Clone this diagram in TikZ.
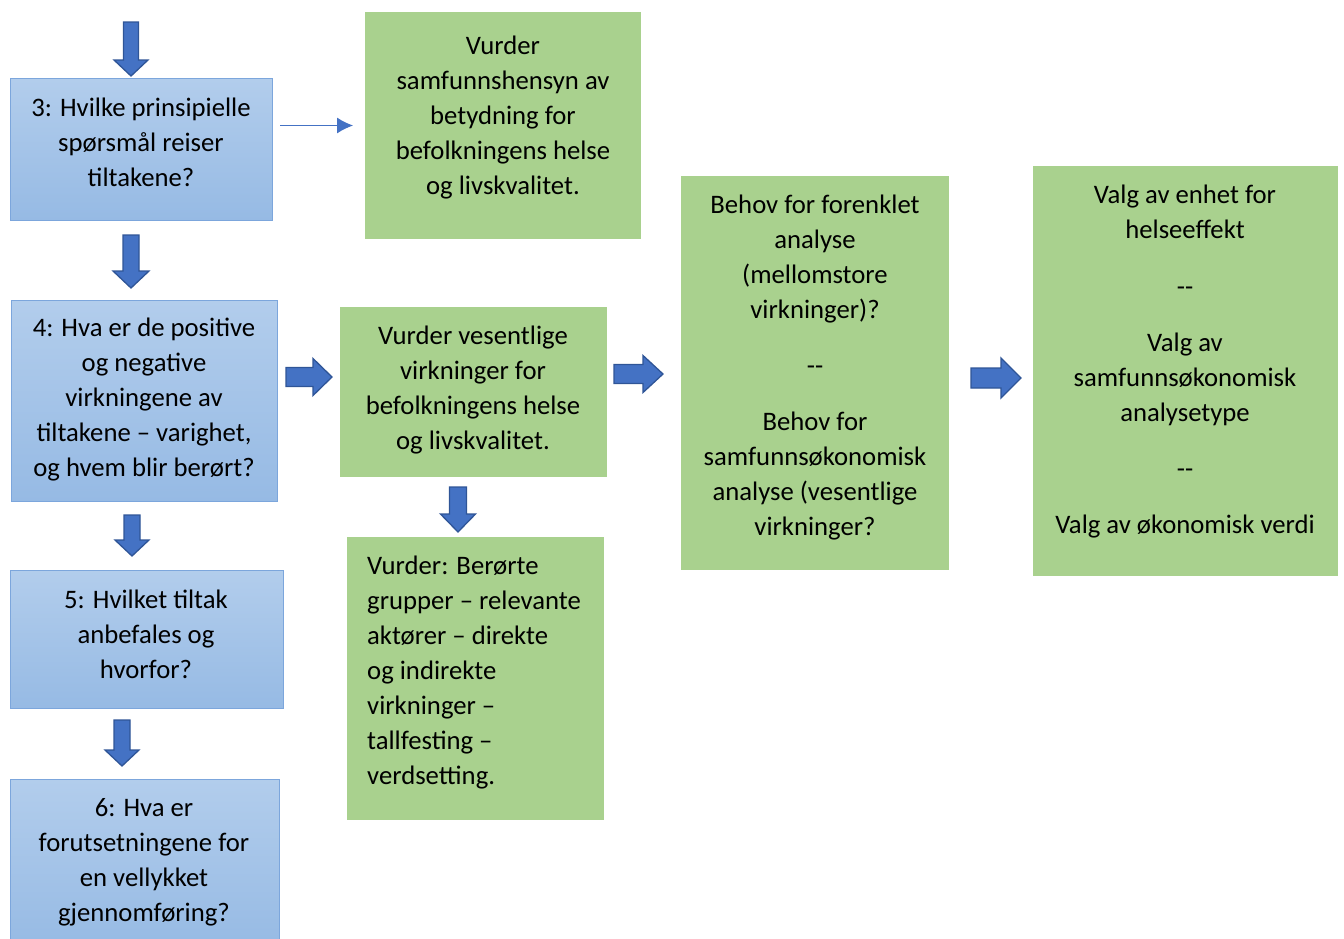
\documentclass[tikz,border=0pt]{standalone}
\usepackage{fontspec}
\setmainfont{Carlito}
\usetikzlibrary{calc,arrows.meta}
\definecolor{bluetop}{RGB}{178,205,236}
\definecolor{bluebot}{RGB}{150,186,228}
\definecolor{blueedge}{RGB}{124,166,220}
\definecolor{greenfill}{RGB}{169,209,142}
\definecolor{arrowfill}{RGB}{68,114,196}
\definecolor{arrowedge}{RGB}{47,85,151}
\tikzset{
  bluebox/.style={draw=blueedge, line width=1pt, top color=bluetop, bottom color=bluebot, anchor=north west, inner sep=0pt},
  greenbox/.style={fill=greenfill, anchor=north west, inner sep=0pt},
  txt/.style={align=center, inner sep=0pt, yshift=-2pt, font=\fontsize{26.7}{35}\selectfont},
  txtl/.style={align=left, inner sep=0pt, anchor=west, yshift=-2pt, font=\fontsize{26.7}{35}\selectfont},
  blockarrow/.style={fill=arrowfill, draw=arrowedge, line width=1.3pt, line join=miter},
  thinarrow/.style={draw=arrowfill, line width=1pt, -{Latex[length=16pt,width=16pt]}}
}
\newcommand\dd{{-}{-}}
\newcommand\barrowV[5]{\path[blockarrow] let \p1=(#1),\p2=(#2) in (\x1-#3pt,\y1) -- (\x1+#3pt,\y1) -- (\x1+#3pt,\y2+#5pt) -- (\x1+#4pt,\y2+#5pt) -- (\x2,\y2) -- (\x1-#4pt,\y2+#5pt) -- (\x1-#3pt,\y2+#5pt) -- cycle;}
\newcommand\barrowH[5]{\path[blockarrow] let \p1=(#1),\p2=(#2) in (\x1,\y1+#3pt) -- (\x2-#5pt,\y1+#3pt) -- (\x2-#5pt,\y1+#4pt) -- (\x2,\y2) -- (\x2-#5pt,\y1-#4pt) -- (\x2-#5pt,\y1-#3pt) -- (\x1,\y1-#3pt) -- cycle;}
\begin{document}
\begin{tikzpicture}[x=1pt,y=-1pt]
\useasboundingbox (0,0) rectangle (1344,938);
% blue boxes
\node[bluebox, minimum width=262pt, minimum height=142pt] (b3) at (10,78) {};
\node[txt] (b3t) at (141,140) {3: Hvilke prinsipielle\\spørsmål reiser\\tiltakene?};
\node[bluebox, minimum width=266pt, minimum height=201pt] (b4) at (11,300) {};
\node[txt] (b4t) at (144,398) {4: Hva er de positive\\og negative\\virkningene av\\tiltakene – varighet,\\og hvem blir berørt?};
\node[bluebox, minimum width=273pt, minimum height=138pt] (b5) at (10,570) {};
\node[txt] (b5t) at (146,632) {5: Hvilket tiltak\\anbefales og\\hvorfor?};
\node[bluebox, minimum width=269pt, minimum height=170pt] (b6) at (10,779) {};
\node[txt] (b6t) at (144,860) {6: Hva er\\forutsetningene for\\en vellykket\\gjennomføring?};
% green boxes
\node[greenbox, minimum width=276pt, minimum height=227pt] (gA) at (365,12) {};
\node[txt] (gAt) at (503,116) {Vurder\\samfunnshensyn av\\betydning for\\befolkningens helse\\og livskvalitet.};
\node[greenbox, minimum width=267pt, minimum height=170pt] (gB) at (340,307) {};
\node[txt] (gBt) at (473,388) {Vurder vesentlige\\virkninger for\\befolkningens helse\\og livskvalitet.};
\node[greenbox, minimum width=257pt, minimum height=283pt] (gC) at (347,537) {};
\node[txtl] (gCt) at (367,671) {Vurder: Berørte\\grupper – relevante\\aktører – direkte\\og indirekte\\virkninger –\\tallfesting –\\verdsetting.};
\node[greenbox, minimum width=268pt, minimum height=394pt] (gD) at (681,176) {};
\node[txt] (gDt) at (815,366) {Behov for forenklet\\analyse\\(mellomstore\\virkninger)?\\[21pt]\dd\\[21pt]Behov for\\samfunnsøkonomisk\\analyse (vesentlige\\virkninger?};
\node[greenbox, minimum width=305pt, minimum height=410pt] (gE) at (1033,166) {};
\node[txt] (gEt) at (1185,360) {Valg av enhet for\\helseeffekt\\[22pt]\dd\\[21pt]Valg av\\samfunnsøkonomisk\\analysetype\\[21pt]\dd\\[21pt]Valg av økonomisk verdi};
% arrow coordinates
\coordinate (a0s) at (131,22);  \coordinate (a0e) at (131,76);
\coordinate (a1s) at (131,235); \coordinate (a1e) at (131,288);
\coordinate (a2s) at (132,515); \coordinate (a2e) at (132,556);
\coordinate (a3s) at (122,720); \coordinate (a3e) at (122,766);
\coordinate (a4s) at (458,487); \coordinate (a4e) at (458,532);
\coordinate (h1s) at (286,377); \coordinate (h1e) at (332,377);
\coordinate (h2s) at (614,374); \coordinate (h2e) at (663,374);
\coordinate (h3s) at (971,378); \coordinate (h3e) at (1021,378);
\barrowV{a0s}{a0e}{7.5}{17}{16}
\barrowV{a1s}{a1e}{8}{18}{17}
\barrowV{a2s}{a2e}{8}{17}{16}
\barrowV{a3s}{a3e}{8}{17}{16}
\barrowV{a4s}{a4e}{8.5}{17.5}{18}
\barrowH{h1s}{h1e}{9.5}{18.5}{19}
\barrowH{h2s}{h2e}{9.5}{18.5}{20}
\barrowH{h3s}{h3e}{10}{20}{20}
% thin arrow
\coordinate (t1) at ($(b3.east)+(7,-24)$);
\draw[thinarrow] (t1) -- (t1 -| {$(gA.west)+(-12,0)$});
\end{tikzpicture}
\end{document}
